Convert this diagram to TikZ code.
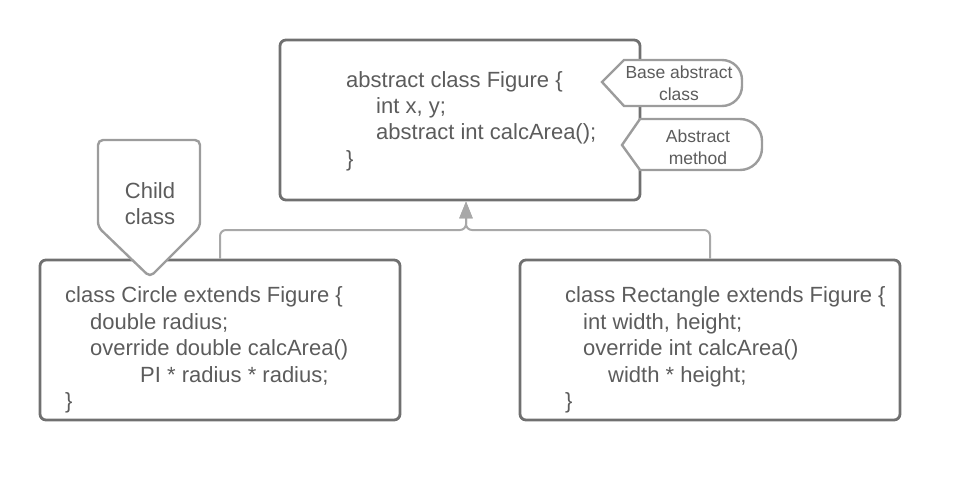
\documentclass[tikz,border=0pt]{standalone}
\usepackage{fontspec}
\setmainfont{Liberation Sans}
\usepackage{tikz}
\usetikzlibrary{arrows.meta}
\usetikzlibrary{calc}
\tikzset{>=latex}
\definecolor{boxgray}{HTML}{707070}
\definecolor{textgray}{HTML}{5C5C5C}
\definecolor{linegray}{HTML}{A8A8A8}
\definecolor{notegray}{HTML}{9C9C9C}

\begin{document}
\begin{tikzpicture}[x=1pt,y=1pt,
    classbox/.style={draw=boxgray,line width=2.8pt,rounded corners=6pt,inner sep=0pt,minimum height=160pt},
    codetext/.style={text=textgray,align=left,anchor=west,inner sep=0pt,font=\fontsize{22}{26.4}\selectfont},
    notetext/.style={text=textgray,align=center,inner sep=0pt,font=\fontsize{17.5}{21.5}\selectfont},
    noteshape/.style={draw=notegray,line width=2.4pt,fill=white},
    inherit/.style={draw=linegray,line width=2pt,rounded corners=6pt}]
    \useasboundingbox (0,0) rectangle (960,-490);
    % classes
    \node[classbox,minimum width=360pt] (figure) at (460,-120) {};
    \node[classbox,minimum width=360pt] (circle) at (220,-340) {};
    \node[classbox,minimum width=380pt] (rect) at (710,-340) {};
    \node[codetext] (figuretext) at (346,-121) {abstract class Figure \{\\
      \hspace*{30pt}int x, y;\\
      \hspace*{30pt}abstract int calcArea();\\
      \}};
    \node[codetext] (circletext) at (65,-350) {class Circle extends Figure \{\\
      \hspace*{25pt}double radius;\\
      \hspace*{25pt}override double calcArea()\\
      \hspace*{75pt}PI * radius * radius;\\
      \}};
    \node[codetext] (recttext) at (565,-350) {class Rectangle extends Figure \{\\
      \hspace*{18pt}int width, height;\\
      \hspace*{18pt}override int calcArea()\\
      \hspace*{43pt}width * height;\\
      \}};
    % inheritance
    \coordinate (join) at (466,-230);
    \foreach \child in {circle,rect} {
      \draw[inherit,-{Triangle[length=17pt,width=13pt]},color=linegray] (\child.north) |- (join) -- (join |- figure.south);
    }
    % notes
    \draw[noteshape] (602,-82) -- (624,-60) -- (722,-60) arc[start angle=90,end angle=0,radius=20pt]
      -- (742,-86) arc[start angle=0,end angle=-90,radius=20pt] -- (624,-106) -- cycle;
    \node[notetext] (basenote) at (679,-83) {Base abstract\\class};
    \draw[noteshape] (622,-145) -- (640,-119) -- (740,-119) arc[start angle=90,end angle=0,radius=22pt]
      -- (762,-148) arc[start angle=0,end angle=-90,radius=22pt] -- (640,-170) -- cycle;
    \node[notetext] (methodnote) at (698,-147) {Abstract\\method};
    \draw[noteshape,rounded corners=5pt] (98,-140) -- (200,-140) -- (200,-227) -- (150,-277) -- (98,-227) -- cycle;
    \node[notetext,font=\fontsize{22}{26}\selectfont] (childnote) at (150,-204) {Child\\class};
\end{tikzpicture}
\end{document}
